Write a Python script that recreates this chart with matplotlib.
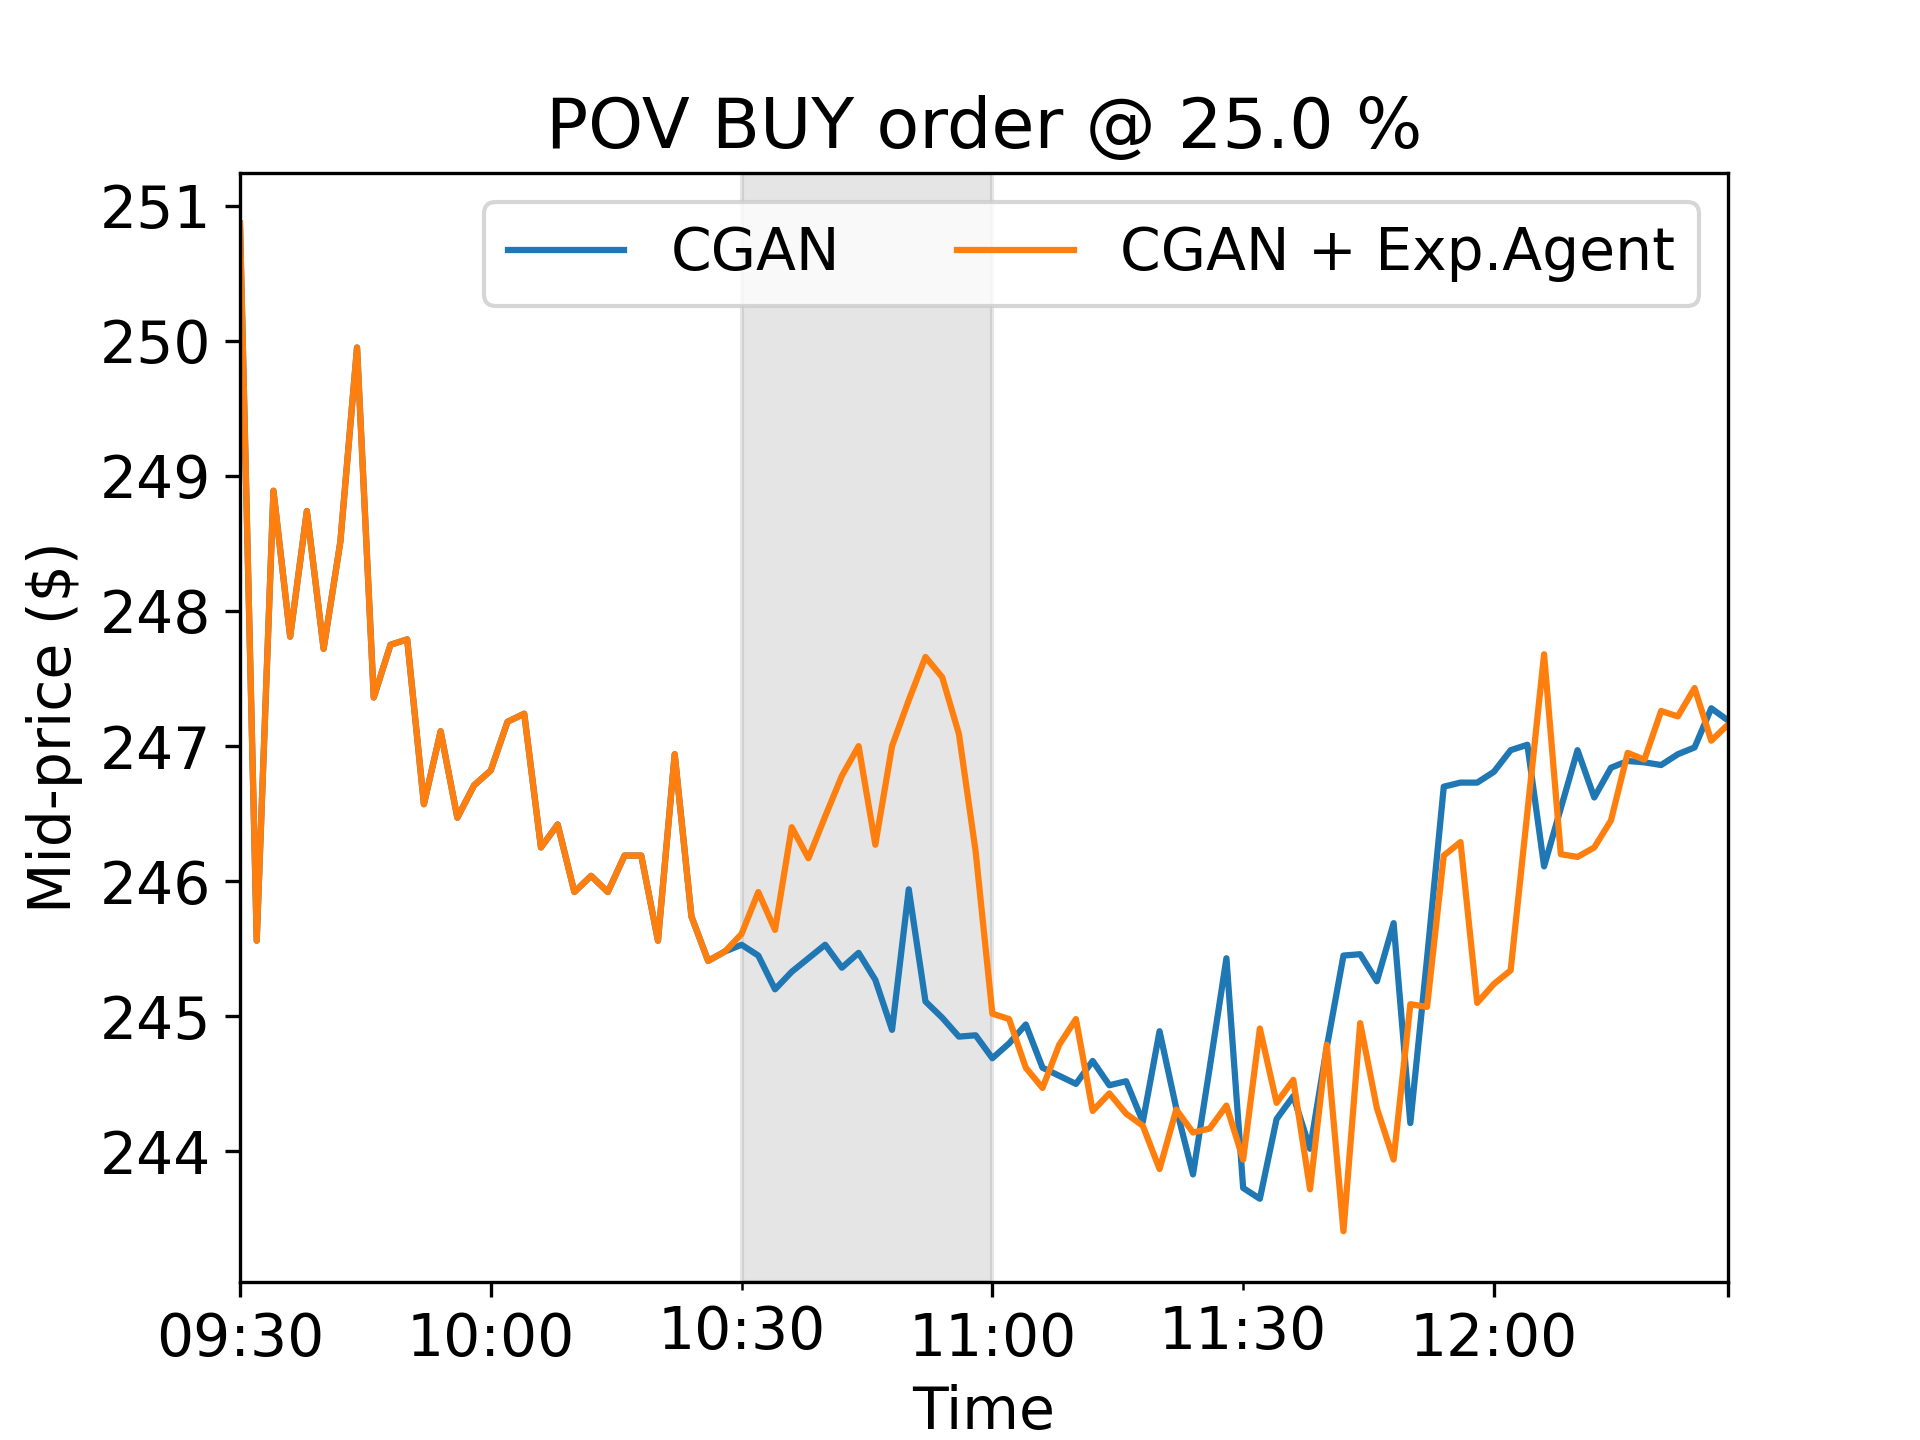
import matplotlib
matplotlib.use("Agg")
import matplotlib.pyplot as plt
import matplotlib.dates as mdates
import pandas as pd

plt.rcParams['font.size'] = 14

start_time = "2021-01-04 09:30"
n_points = 90
step = "2min"

cgan = [
    250.87, 245.56, 248.89, 247.81, 248.74, 247.72, 248.51, 249.95, 247.36, 247.75,
    247.79, 246.57, 247.11, 246.47, 246.71, 246.82, 247.18, 247.24, 246.25, 246.42,
    245.92, 246.04, 245.92, 246.19, 246.19, 245.56, 246.94, 245.74, 245.41, 245.48,
    245.53, 245.45, 245.20, 245.33, 245.43, 245.53, 245.36, 245.47, 245.27, 244.90,
    245.94, 245.11, 244.99, 244.85, 244.86, 244.69, 244.80, 244.94, 244.62, 244.56,
    244.50, 244.67, 244.49, 244.52, 244.22, 244.89, 244.32, 243.83, 244.62, 245.43,
    243.73, 243.65, 244.24, 244.41, 244.02, 244.77, 245.45, 245.46, 245.26, 245.69,
    244.21, 245.43, 246.70, 246.73, 246.73, 246.81, 246.97, 247.01, 246.11, 246.54,
    246.97, 246.62, 246.84, 246.89, 246.88, 246.86, 246.94, 246.99, 247.28, 247.19,
]

cgan_agent = [
    250.87, 245.56, 248.89, 247.81, 248.74, 247.72, 248.51, 249.95, 247.36, 247.75,
    247.79, 246.57, 247.11, 246.47, 246.71, 246.82, 247.18, 247.24, 246.25, 246.42,
    245.92, 246.04, 245.92, 246.19, 246.19, 245.56, 246.94, 245.74, 245.41, 245.48,
    245.61, 245.92, 245.64, 246.40, 246.17, 246.48, 246.78, 247.00, 246.27, 247.00,
    247.34, 247.66, 247.51, 247.09, 246.22, 245.02, 244.98, 244.62, 244.47, 244.79,
    244.98, 244.30, 244.43, 244.28, 244.19, 243.87, 244.31, 244.14, 244.17, 244.34,
    243.94, 244.91, 244.36, 244.53, 243.72, 244.79, 243.41, 244.95, 244.32, 243.94,
    245.09, 245.07, 246.19, 246.29, 245.10, 245.24, 245.34, 246.51, 247.68, 246.20,
    246.18, 246.25, 246.45, 246.95, 246.90, 247.26, 247.22, 247.43, 247.04, 247.16,
]

span_start = "2021-01-04 10:30"
span_end = "2021-01-04 11:00"
major_ticks = ["2021-01-04 09:30", "2021-01-04 10:00", "2021-01-04 11:00", "2021-01-04 12:00"]
major_labels = ["09:30", "10:00", "11:00", "12:00"]
minor_ticks = ["2021-01-04 10:30", "2021-01-04 11:30"]
minor_labels = ["10:30", "11:30"]

times = pd.date_range(start_time, periods=n_points, freq=step)

fig, ax = plt.subplots(figsize=(6.4, 4.8), dpi=300)
ax.plot(times, cgan, color="#1f77b4", lw=1.5, label="CGAN")
ax.plot(times, cgan_agent, color="#ff7f0e", lw=1.5, label="CGAN + Exp.Agent")
ax.axvspan(pd.Timestamp(span_start), pd.Timestamp(span_end), color="grey", alpha=0.2)

ax.set_xlim(times[0], times[-1])
maj = [mdates.date2num(pd.Timestamp(t)) for t in major_ticks] + [mdates.date2num(times[-1])]
ax.set_xticks(maj, major_labels + [""])
mino = [mdates.date2num(pd.Timestamp(t)) for t in minor_ticks]
ax.set_xticks(mino, minor_labels, minor=True)

ax.set_title("POV BUY order @ 25.0 %")
ax.set_xlabel("Time")
ax.set_ylabel("Mid-price ($)")
ax.legend(loc="upper right", ncol=2)

fig.savefig("out.png", dpi=300)
